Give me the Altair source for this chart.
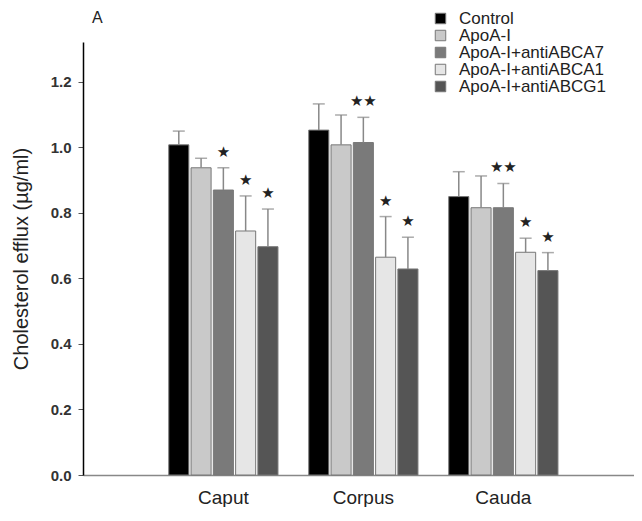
import altair as alt
import pandas as pd

regions = ["Caput", "Corpus", "Cauda"]
treatments = ["Control", "ApoA-I", "ApoA-I+antiABCA7", "ApoA-I+antiABCA1", "ApoA-I+antiABCG1"]
colors = ["#000000", "#c9c9c9", "#7a7a7a", "#e6e6e6", "#555555"]
panel_label = ["A"]

means = {
    "Caput":  [1.008, 0.938, 0.870, 0.745, 0.697],
    "Corpus": [1.053, 1.008, 1.015, 0.665, 0.629],
    "Cauda":  [0.850, 0.816, 0.816, 0.680, 0.624],
}
uppers = {
    "Caput":  [1.050, 0.967, 0.938, 0.852, 0.812],
    "Corpus": [1.133, 1.099, 1.092, 0.789, 0.726],
    "Cauda":  [0.926, 0.913, 0.890, 0.723, 0.679],
}
stars = {
    "Caput":  ["", "", "★", "★", "★"],
    "Corpus": ["", "", "★★", "★", "★"],
    "Cauda":  ["", "", "★★", "★", "★"],
}

rows = []
for r in regions:
    for i, t in enumerate(treatments):
        rows.append({"region": r, "treatment": t, "mean": means[r][i],
                     "upper": uppers[r][i], "star": stars[r][i]})
df = pd.DataFrame(rows)

x = alt.X("region:N", sort=regions, title=None,
          scale=alt.Scale(paddingInner=0.22, paddingOuter=0.578, align=0.53),
          axis=alt.Axis(ticks=False, labelAngle=0, labelFontSize=19, labelColor="#222",
                        labelPadding=13, domainColor="#888", domainWidth=1.5,
                        labelFont="Liberation Sans"))
xo = alt.XOffset("treatment:N", sort=treatments, scale=alt.Scale(paddingInner=0.1))
y = alt.Y("mean:Q", title="Cholesterol efflux (µg/ml)",
          scale=alt.Scale(domain=[0, 1.322], nice=False),
          axis=alt.Axis(values=[0, 0.2, 0.4, 0.6, 0.8, 1.0, 1.2], format=".1f",
                        grid=False, domainColor="#000", domainWidth=1.5,
                        tickColor="#555", tickSize=5, labelFontSize=15,
                        labelFontWeight="bold", labelColor="#333", labelPadding=7,
                        titleFontSize=20, titleFontWeight="normal", titleColor="#222",
                        titlePadding=19, labelFont="Liberation Sans",
                        titleFont="Liberation Sans"))

base = alt.Chart(df)

bars = base.mark_bar(stroke="#777", strokeWidth=1).encode(
    x=x, xOffset=xo, y=y,
    color=alt.Color("treatment:N", sort=treatments,
                    scale=alt.Scale(domain=treatments, range=colors),
                    legend=alt.Legend(title=None, orient="none", legendX=349, legendY=-32,
                                      labelFontSize=17, labelFont="Liberation Sans",
                                      labelColor="#222", symbolType="square",
                                      symbolSize=110, symbolStrokeColor="#777",
                                      symbolStrokeWidth=1, rowPadding=-1,
                                      labelOffset=10)),
)

err = base.mark_rule(color="#888", strokeWidth=1.5).encode(
    x=x, xOffset=xo, y="mean:Q", y2="upper:Q")

caps = base.mark_tick(color="#888", thickness=1.5, size=12, orient="horizontal").encode(
    x=x, xOffset=xo, y="upper:Q")

txt = base.mark_text(fontSize=15, font="DejaVu Sans", color="#222", baseline="middle",
                     dy=-16).encode(x=x, xOffset=xo, y="upper:Q", text="star:N")

label = alt.Chart(pd.DataFrame({"label": panel_label})).mark_text(
    fontSize=16, font="Liberation Sans", color="#222", align="left", baseline="middle"
).encode(x=alt.value(9), y=alt.value(-24), text="label:N")

chart = alt.layer(bars, err, caps, txt, label).properties(
    width=551, height=433,
    autosize=alt.AutoSizeParams(type="none"),
    padding={"left": 75, "top": 34, "right": 0, "bottom": 32},
).configure_view(stroke=None)

chart.save("out.html", embed_options={"renderer": "svg", "actions": False})
